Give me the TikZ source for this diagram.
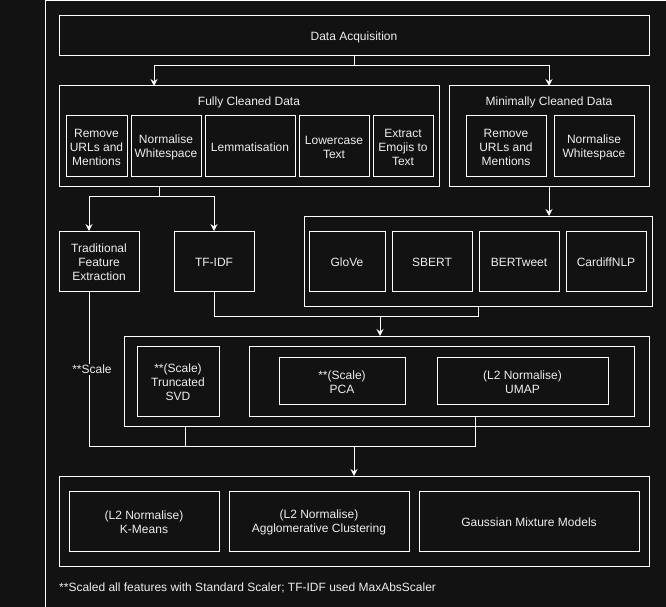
\documentclass[tikz,border=0pt]{standalone}
\usepackage{fontspec}
\setmainfont{Liberation Sans}
\usetikzlibrary{arrows.meta}
\definecolor{bg}{HTML}{121212}
\definecolor{fg}{HTML}{EEEEEE}
\newcommand\cbx[5]{\node[box, minimum width={#4-#2}, minimum height={#5-#3}] (#1) at ({(#2+#4)/2},{(#3+#5)/2}) {};}
\newcommand\bx[6]{\cbx{#1}{#2}{#3}{#4}{#5}\node[lbl, align=center] (#1t) at ([yshift=-1.5pt]#1.center) {#6};}
\begin{document}
\begin{tikzpicture}[x=1pt,y=-1pt,
  box/.style={draw=white, line width=1pt, inner sep=0pt, outer sep=0pt},
  lbl/.style={text=fg, font=\fontsize{12}{14}\selectfont, inner sep=1pt},
  link/.style={draw=white, line width=1pt},
  arr/.style={link, -{Stealth[length=7pt,width=7pt,inset=2.5pt]}}]
\useasboundingbox[fill=bg] (0,0) rectangle (666,607);
\draw[link] (45,620) -- (45,1) -- (680,1);

\bx{da}{59}{16}{649}{56}{Data Acquisition}
\cbx{fcd}{59}{86}{439}{186}
\node[lbl] (fcdt) at (249,102) {Fully Cleaned Data};
\bx{f1}{66}{116}{127}{176}{Remove\\URLs and\\Mentions}
\bx{f2}{131}{116}{201}{176}{Normalise\\Whitespace}
\bx{f3}{205}{116}{295}{176}{Lemmatisation}
\bx{f4}{299}{116}{369}{176}{Lowercase\\Text}
\bx{f5}{373}{116}{433}{176}{Extract\\Emojis to\\Text}
\cbx{mcd}{449}{86}{649}{186}
\node[lbl] (mcdt) at (549,102) {Minimally Cleaned Data};
\bx{m1}{466}{116}{546}{176}{Remove\\URLs and\\Mentions}
\bx{m2}{554}{116}{634}{176}{Normalise\\Whitespace}
\bx{tfe}{59}{231}{139}{291}{Traditional\\Feature\\Extraction}
\bx{tfidf}{174}{231}{254}{291}{TF-IDF}
\cbx{emb}{304}{216}{652}{306}
\bx{e1}{309}{231}{385}{291}{GloVe}
\bx{e2}{392}{231}{472}{291}{SBERT}
\bx{e3}{479}{231}{559}{291}{BERTweet}
\bx{e4}{566}{231}{646}{291}{CardiffNLP}
\cbx{dr}{124}{336}{649}{426}
\bx{svd}{137}{346}{219}{416}{**(Scale)\\Truncated\\SVD}
\cbx{dri}{249}{346}{634}{416}
\bx{pca}{279}{357}{405}{404}{**(Scale)\\PCA}
\bx{umap}{437}{357}{608}{404}{(L2 Normalise)\\UMAP}
\cbx{cl}{59}{476}{649}{566}
\bx{km}{69}{491}{219}{551}{(L2 Normalise)\\K-Means}
\bx{ag}{229}{491}{409}{551}{(L2 Normalise)\\Agglomerative Clustering}
\bx{gmm}{419}{491}{639}{551}{Gaussian Mixture Models}
\node[lbl, anchor=west] (note) at (58,587.5) {**Scaled all features with Standard Scaler; TF-IDF used MaxAbsScaler};

\coordinate (j1) at (354,66);
\draw[link] (da.south) -- (j1);
\draw[arr] (j1) -| ([xshift=95pt]fcd.north west);
\draw[arr] (j1) -| (mcd.north);
\coordinate (j2) at (159,196);
\draw[link] (fcd.south -| j2) -- (j2);
\draw[arr] (j2) -| ([xshift=30pt]tfe.north west);
\draw[arr] (j2) -| (tfidf.north);
\draw[arr] (mcd.south) -- (mcd.south |- emb.north);
\coordinate (j3) at (380,316);
\draw[link] (tfidf.south) |- (j3);
\draw[link] (emb.south) |- (j3);
\draw[arr] (j3) -- (j3 |- dr.north);
\coordinate (j4) at (354,446);
\draw[link] ([xshift=30pt]tfe.south west) |- (j4);
\coordinate (d1) at ([xshift=61pt]dr.south west);
\draw[link] (d1) -- (d1 |- j4);
\coordinate (d2) at ([xshift=226pt]dri.south west);
\draw[link] (d2) |- (j4);
\draw[arr] (j4) -- (cl.north);
\node[lbl, fill=bg] (scl) at (92,369.5) {**Scale};
\end{tikzpicture}
\end{document}
